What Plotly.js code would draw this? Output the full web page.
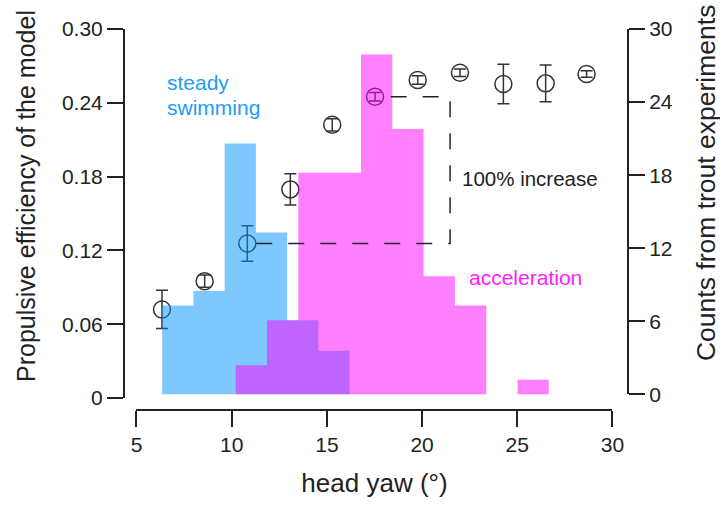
<!DOCTYPE html>
<html>
<head>
<meta charset="utf-8">
<script src="https://cdn.plot.ly/plotly-3.0.1.min.js"></script>
<style>html,body{margin:0;padding:0;background:#fff;}#chart{width:720px;height:508px;}</style>
</head>
<body>
<div id="chart"></div>
<script>
// ---- data ----
const headYaw       = [6.34, 8.58, 10.82, 13.08, 15.28, 17.53, 19.77, 21.99, 24.27, 26.49, 28.64];
const efficiency    = [0.0720, 0.0950, 0.1256, 0.1696, 0.2221, 0.2449, 0.2585, 0.2644, 0.2553, 0.2558, 0.2634];
const efficiencyErr = [0.0155, 0.005, 0.0145, 0.0127, 0.005, 0.0035, 0.0035, 0.003, 0.016, 0.015, 0.0027];

const binWidth        = 1.64;
const steadyBinStart  = [6.35, 7.99, 9.63, 11.27, 12.91, 14.55];
const steadyCounts    = [7.3, 8.5, 20.6, 13.3, 6.1, 3.6];
const accelBinStart   = [10.21, 11.855, 13.5, 15.145, 16.79, 18.435, 20.08, 21.725, 23.37, 25.015];
const accelCounts     = [2.4, 6.1, 18.2, 18.2, 27.9, 21.8, 9.7, 7.3, 0, 1.2];

const xTicks  = [5, 10, 15, 20, 25, 30];
const yTicks  = [0, 0.06, 0.12, 0.18, 0.24, 0.30];
const yLabels = ['0', '0.06', '0.12', '0.18', '0.24', '0.30'];
const y2Ticks = [0, 6, 12, 18, 24, 30];

const bracketX = [11.29, 21.47, 21.47, 18.0];
const bracketY = [0.1256, 0.1256, 0.2449, 0.2449];

// ---- styling ----
const FONT = 'Liberation Sans, Arial, Helvetica, sans-serif';
const INK = '#222';

// histogram as a seamless step outline (one polygon per series)
function stepHist(starts, counts, color) {
  const xs = starts.slice();
  xs.push(starts[starts.length - 1] + binWidth);
  const ys = counts.slice();
  ys.push(counts[counts.length - 1]);
  return {
    type: 'scatter', mode: 'lines', x: xs, y: ys, xaxis: 'x', yaxis: 'y2',
    line: {shape: 'hv', width: 0, color: color}, fill: 'tozeroy', fillcolor: color,
    showlegend: false, hoverinfo: 'skip'
  };
}

const traces = [
  {
    type: 'scatter', mode: 'markers', x: headYaw, y: efficiency,
    xaxis: 'x', yaxis: 'y',
    marker: {symbol: 'circle-open', size: 17, color: '#333', line: {width: 1.5, color: '#333'}},
    error_y: {type: 'data', array: efficiencyErr, visible: true, color: '#333', thickness: 1.5, width: 6},
    cliponaxis: false, showlegend: false, hoverinfo: 'skip'
  },
  stepHist(steadyBinStart, steadyCounts, 'rgba(0,145,255,0.5)'),
  stepHist(accelBinStart, accelCounts, 'rgba(255,0,255,0.5)')
];

let path = 'M ' + bracketX[0] + ',' + bracketY[0];
for (let i = 1; i < bracketX.length; i++) path += ' L ' + bracketX[i] + ',' + bracketY[i];

const axisCommon = {
  showgrid: false, zeroline: false, showline: true, linecolor: INK, linewidth: 2,
  ticks: 'outside', ticklen: 16, tickwidth: 2, tickcolor: INK,
  tickfont: {family: FONT, size: 21, color: INK}
};

const layout = {
  width: 720, height: 508,
  margin: {l: 124, r: 92, t: 29, b: 98},
  paper_bgcolor: '#fff', plot_bgcolor: 'rgba(0,0,0,0)',
  showlegend: false,
  font: {family: FONT, color: INK},
  xaxis: Object.assign({}, axisCommon, {
    domain: [0.0248, 0.9692], range: [5, 30], anchor: 'free', position: 0,
    tickmode: 'array', tickvals: xTicks,
    title: {text: 'head yaw (°)', font: {family: FONT, size: 26, color: INK}, standoff: 18}
  }),
  yaxis: Object.assign({}, axisCommon, {
    domain: [0.0315, 1], range: [0, 0.30], anchor: 'free', position: 0,
    tickmode: 'array', tickvals: yTicks, ticktext: yLabels
  }),
  yaxis2: Object.assign({}, axisCommon, {
    domain: [0.0407, 1], range: [0, 30], anchor: 'free', position: 1, side: 'right',
    tickmode: 'array', tickvals: y2Ticks
  }),
  shapes: [{
    type: 'path', path: path, xref: 'x', yref: 'y', layer: 'above',
    line: {color: INK, width: 1.5, dash: '16px,16px'}
  }],
  annotations: [
    {text: 'Propulsive efficiency of the model', xref: 'paper', yref: 'paper',
     x: -0.1944, y: 0.5617, xanchor: 'center', yanchor: 'middle', textangle: -90,
     showarrow: false, font: {family: FONT, size: 25, color: INK}},
    {text: 'Counts from trout experiments', xref: 'paper', yref: 'paper',
     x: 1.1548, y: 0.5958, xanchor: 'center', yanchor: 'middle', textangle: -90,
     showarrow: false, font: {family: FONT, size: 26.5, color: INK}},
    {text: 'steady', xref: 'x', yref: 'y', x: 6.5, y: 0.2565, xanchor: 'left', yanchor: 'middle',
     showarrow: false, font: {family: FONT, size: 21, color: '#1e9cf5'}},
    {text: 'swimming', xref: 'x', yref: 'y', x: 6.5, y: 0.2365, xanchor: 'left', yanchor: 'middle',
     showarrow: false, font: {family: FONT, size: 21, color: '#1e9cf5'}},
    {text: '100% increase', xref: 'x', yref: 'y', x: 22.0, y: 0.1788, xanchor: 'left', yanchor: 'middle',
     showarrow: false, font: {family: FONT, size: 20.5, color: INK}},
    {text: 'acceleration', xref: 'x', yref: 'y', x: 22.37, y: 0.0982, xanchor: 'left', yanchor: 'middle',
     showarrow: false, font: {family: FONT, size: 21, color: '#ff1aff'}}
  ]
};

Plotly.newPlot('chart', traces, layout, {displayModeBar: false, staticPlot: true});
</script>
</body>
</html>
